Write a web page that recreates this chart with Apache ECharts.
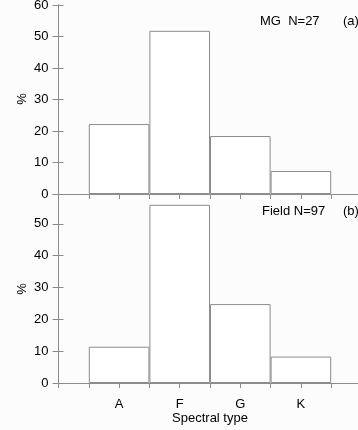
<!DOCTYPE html>
<html lang="en">
<head>
    <meta charset="UTF-8">
    <title>Spectral type</title>
</head>
<style>
    body { margin: 0; background: #fcfcfc; }
    #main { width: 358px; height: 430px; }
</style>
<body>
    <div id="main"></div>
    <script src="https://cdn.jsdelivr.net/npm/echarts@6/dist/echarts.min.js"></script>
    <script>
        const types = ['A', 'F', 'G', 'K']
        const mgPct = [22.2, 51.8, 18.4, 7.3]
        const fieldPct = [11.4, 56.0, 24.8, 8.3]
        const mgLabel = 'MG  N=27'
        const fieldLabel = 'Field N=97'

        const lineColor = '#8c8c8c'
        const font = 'Liberation Sans, Arial, sans-serif'
        let chart = echarts.init(document.getElementById('main'), null, { renderer: 'canvas' })

        const frameLine = { show: true, lineStyle: { color: lineColor, width: 1 } }
        const inTick = { show: true, inside: true, length: 5, lineStyle: { color: lineColor } }

        function xAxes(gi, withLabels) {
            return [
                {
                    type: 'value', gridIndex: gi, position: 'bottom', min: 0, max: 5, interval: 1,
                    axisLine: frameLine, splitLine: { show: false },
                    axisTick: withLabels ? { show: true, inside: false, length: 5, lineStyle: { color: lineColor } } : { show: false },
                    axisLabel: withLabels ? {
                        show: true, margin: 15, color: '#000', fontSize: 13, fontFamily: font,
                        formatter: v => types[v - 1] || ''
                    } : { show: false },
                    name: withLabels ? 'Spectral type' : '', nameLocation: 'middle', nameGap: 29,
                    nameTextStyle: { color: '#000', fontSize: 13, fontFamily: font }
                },
                {
                    type: 'value', gridIndex: gi, position: 'top', min: 0, max: 5, interval: 0.5,
                    axisLine: frameLine, axisTick: inTick, axisLabel: { show: false }, splitLine: { show: false }
                }
            ]
        }
        function yAxes(gi, max) {
            return [
                {
                    type: 'value', gridIndex: gi, position: 'left', min: 0, max: max, interval: 10,
                    axisLine: frameLine, axisTick: inTick, splitLine: { show: false },
                    axisLabel: { margin: 10, color: '#000', fontSize: 13, fontFamily: font, showMaxLabel: max === 60 }
                },
                {
                    type: 'value', gridIndex: gi, position: 'right', min: 0, max: max, interval: 10,
                    axisLine: frameLine, axisTick: Object.assign({}, inTick, { length: 6 }),
                    axisLabel: { show: false }, splitLine: { show: false }
                }
            ]
        }
        function bars(gi, vals) {
            return {
                type: 'bar', xAxisIndex: gi * 2, yAxisIndex: gi * 2,
                data: types.map((t, i) => [i + 1, vals[i]]),
                barWidth: 60.6,
                itemStyle: { color: '#ffffff', borderColor: lineColor, borderWidth: 1 },
                silent: true
            }
        }
        function pctLabel(y) {
            return {
                type: 'text', x: 22, y: y, rotation: Math.PI / 2,
                style: { text: '%', fontSize: 13, fontFamily: font, fill: '#000', align: 'center', verticalAlign: 'middle' }
            }
        }

        let option = {
            animation: false,
            backgroundColor: '#fcfcfc',
            grid: [
                { left: 58.5, top: 5, width: 303, height: 189, outerBoundsMode: 'none' },
                { left: 58.5, top: 194, width: 303, height: 189, outerBoundsMode: 'none' }
            ],
            xAxis: [...xAxes(0, false), ...xAxes(1, true)],
            yAxis: [...yAxes(0, 60), ...yAxes(1, 59.4)],
            series: [bars(0, mgPct), bars(1, fieldPct)],
            graphic: [
                pctLabel(99),
                pctLabel(289),
                { type: 'text', left: 260, top: 15, style: { text: mgLabel, fontSize: 13, fontFamily: font, fill: '#000' } },
                { type: 'text', left: 343, top: 15, style: { text: '(a)', fontSize: 13, fontFamily: font, fill: '#000' } },
                { type: 'text', left: 262, top: 205, style: { text: fieldLabel, fontSize: 13, fontFamily: font, fill: '#000' } },
                { type: 'text', left: 343, top: 205, style: { text: '(b)', fontSize: 13, fontFamily: font, fill: '#000' } }
            ]
        }
        chart.setOption(option)
    </script>
</body>
</html>
